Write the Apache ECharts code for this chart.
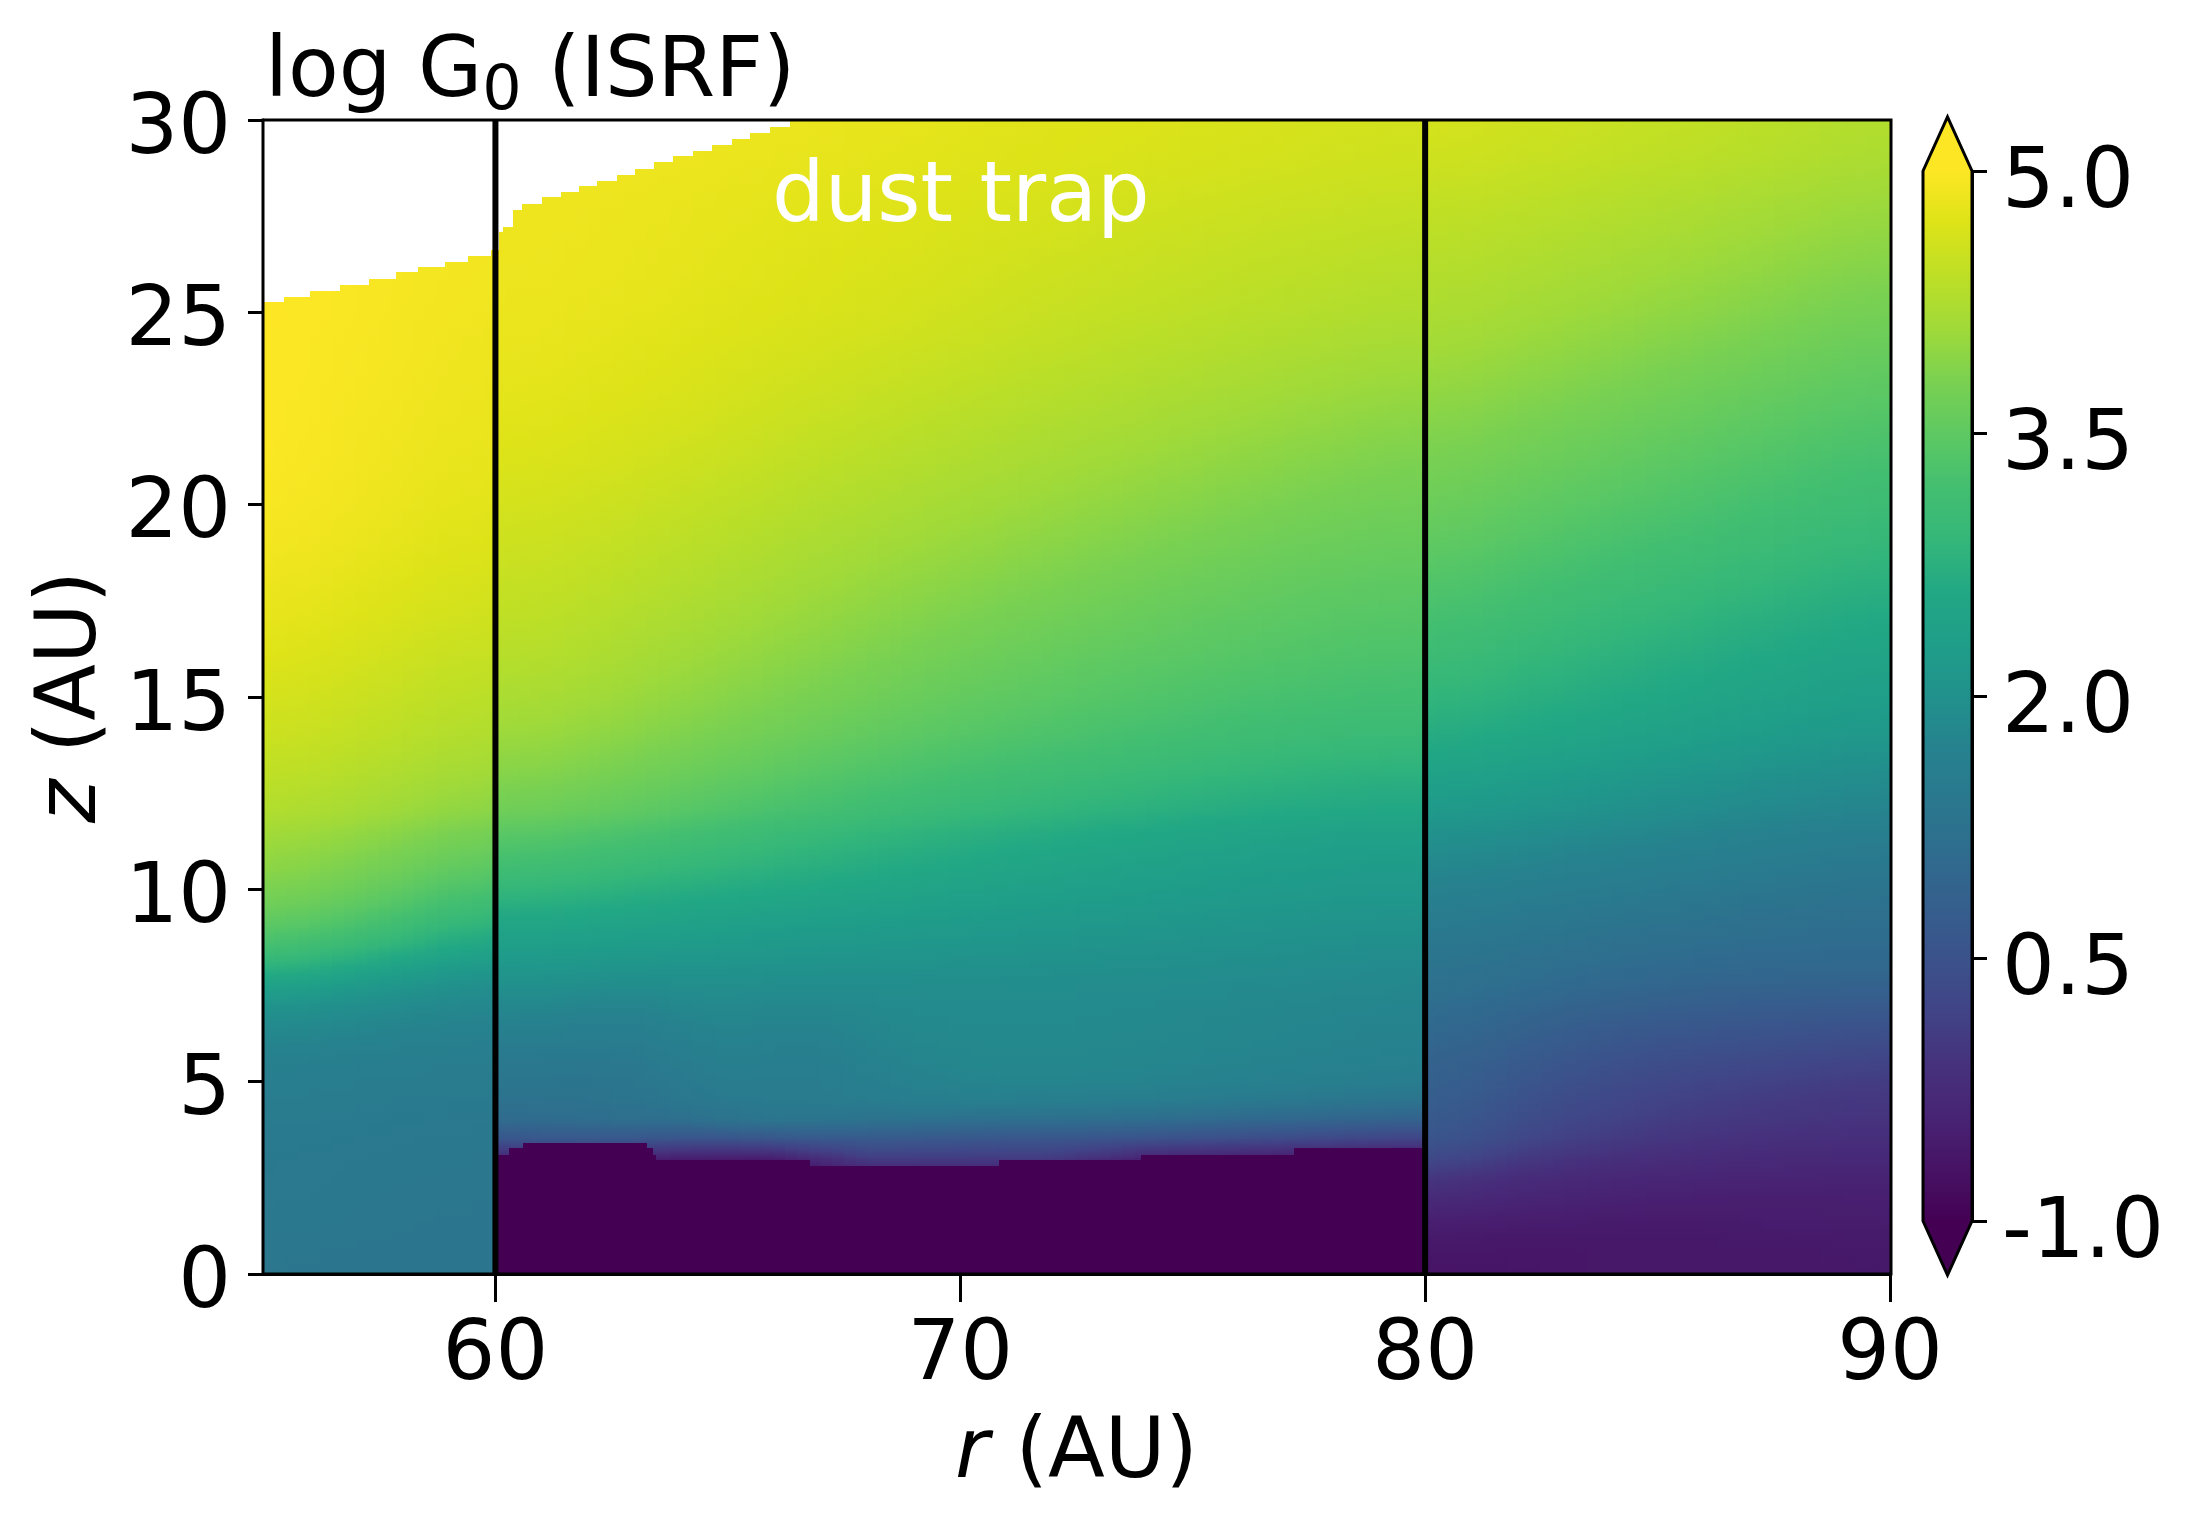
<!DOCTYPE html>
<html><head><meta charset="utf-8">
<style>html,body{margin:0;padding:0;background:#fff}#c{width:2193px;height:1526px}</style>
<script src="https://cdn.jsdelivr.net/npm/echarts@6/dist/echarts.min.js"></script>
</head><body><div id="c"></div>
<script>
const radiusEdges=[55,56,57,58,59,60,61,62,63,64,65,66,67,68,69,70,71,72,73,74,75,76,77,78,79,80,81,82,83,84,85,86,87,88,89,90];
const heightEdges=[30,29,28,27,26,25,24,23,22,21,20,19,18,17,16,15,14,13,12,11.5,11,10.5,10,9.5,9,8.5,8,7.5,7,6.5,6,5.5,5,4.5,4,3.5,3,2.5,2,1.5,1,0.5,0];
const logG0=[
[5,4.98,4.96,4.93,4.9,4.9,4.9,4.9,4.88,4.87,4.85,4.83,4.82,4.8,4.78,4.75,4.73,4.72,4.7,4.68,4.66,4.65,4.62,4.6,4.6,4.62,4.58,4.55,4.52,4.48,4.45,4.42,4.38,4.33,4.28],
[5,4.98,4.96,4.93,4.9,4.88,4.87,4.86,4.84,4.82,4.8,4.78,4.76,4.74,4.72,4.7,4.68,4.66,4.64,4.62,4.6,4.58,4.56,4.54,4.52,4.5,4.47,4.44,4.4,4.36,4.33,4.29,4.25,4.2,4.15],
[5,4.98,4.96,4.93,4.9,4.87,4.86,4.84,4.82,4.8,4.78,4.76,4.74,4.72,4.69,4.66,4.64,4.62,4.59,4.56,4.54,4.51,4.49,4.47,4.45,4.43,4.39,4.35,4.31,4.27,4.23,4.18,4.13,4.08,4.03],
[5,4.98,4.96,4.93,4.9,4.86,4.85,4.83,4.81,4.78,4.75,4.73,4.7,4.68,4.65,4.62,4.59,4.56,4.53,4.5,4.47,4.44,4.42,4.39,4.36,4.34,4.3,4.26,4.22,4.17,4.12,4.07,4.02,3.97,3.92],
[5,4.98,4.95,4.92,4.89,4.85,4.83,4.81,4.79,4.76,4.73,4.7,4.67,4.64,4.61,4.58,4.54,4.51,4.48,4.45,4.42,4.39,4.36,4.33,4.3,4.27,4.22,4.17,4.12,4.07,4.02,3.97,3.91,3.85,3.8],
[5,4.97,4.94,4.91,4.87,4.83,4.81,4.78,4.75,4.72,4.69,4.66,4.63,4.6,4.56,4.52,4.48,4.44,4.41,4.37,4.34,4.3,4.27,4.23,4.2,4.18,4.12,4.07,4.02,3.96,3.91,3.85,3.79,3.73,3.67],
[4.99,4.96,4.93,4.89,4.85,4.8,4.77,4.74,4.71,4.67,4.63,4.59,4.56,4.52,4.48,4.44,4.4,4.36,4.32,4.28,4.24,4.2,4.16,4.12,4.09,4.06,4,3.95,3.89,3.83,3.77,3.71,3.65,3.59,3.54],
[4.99,4.95,4.91,4.87,4.83,4.76,4.73,4.7,4.66,4.62,4.58,4.53,4.49,4.44,4.4,4.35,4.31,4.27,4.23,4.18,4.14,4.09,4.05,4.01,3.97,3.94,3.88,3.82,3.76,3.7,3.64,3.58,3.52,3.46,3.4],
[4.98,4.94,4.89,4.85,4.81,4.71,4.68,4.64,4.6,4.56,4.51,4.46,4.41,4.36,4.31,4.27,4.22,4.17,4.13,4.08,4.03,3.98,3.94,3.89,3.85,3.82,3.75,3.69,3.63,3.57,3.51,3.44,3.38,3.32,3.26],
[4.97,4.92,4.87,4.82,4.78,4.65,4.62,4.58,4.53,4.48,4.43,4.37,4.32,4.27,4.22,4.17,4.12,4.07,4.02,3.97,3.92,3.87,3.82,3.78,3.74,3.7,3.63,3.57,3.51,3.44,3.38,3.31,3.25,3.18,3.12],
[4.93,4.88,4.83,4.78,4.73,4.58,4.55,4.5,4.45,4.4,4.34,4.28,4.23,4.17,4.12,4.07,4.01,3.96,3.91,3.86,3.81,3.76,3.71,3.67,3.65,3.58,3.5,3.43,3.36,3.3,3.23,3.17,3.1,3.04,2.98],
[4.88,4.83,4.78,4.72,4.67,4.52,4.48,4.43,4.37,4.32,4.25,4.19,4.13,4.07,4.01,3.95,3.9,3.85,3.79,3.74,3.69,3.64,3.6,3.57,3.55,3.44,3.36,3.29,3.21,3.14,3.08,3.02,2.95,2.89,2.83],
[4.82,4.77,4.71,4.65,4.6,4.45,4.41,4.35,4.29,4.22,4.16,4.09,4.03,3.96,3.9,3.84,3.78,3.73,3.67,3.62,3.57,3.53,3.49,3.46,3.44,3.28,3.2,3.12,3.05,2.98,2.92,2.85,2.79,2.73,2.67],
[4.76,4.7,4.64,4.58,4.52,4.37,4.33,4.26,4.19,4.12,4.05,3.98,3.91,3.84,3.78,3.72,3.66,3.61,3.56,3.51,3.47,3.43,3.39,3.36,3.34,3.12,3.04,2.96,2.88,2.82,2.76,2.69,2.63,2.58,2.52],
[4.66,4.6,4.54,4.48,4.42,4.28,4.23,4.16,4.09,4.01,3.94,3.87,3.8,3.73,3.66,3.6,3.54,3.49,3.44,3.4,3.36,3.32,3.29,3.26,3.24,2.95,2.87,2.8,2.73,2.67,2.61,2.55,2.49,2.44,2.39],
[4.58,4.52,4.46,4.39,4.32,4.14,4.09,4.02,3.95,3.88,3.8,3.73,3.66,3.59,3.52,3.46,3.41,3.36,3.31,3.26,3.21,3.17,3.13,3.1,3.08,2.76,2.7,2.64,2.58,2.52,2.46,2.4,2.34,2.29,2.25],
[4.48,4.42,4.35,4.28,4.2,4,3.95,3.87,3.8,3.72,3.65,3.57,3.49,3.42,3.35,3.29,3.23,3.18,3.13,3.08,3.03,2.99,2.95,2.92,2.9,2.56,2.5,2.44,2.38,2.32,2.26,2.2,2.15,2.1,2.05],
[4.35,4.28,4.2,4.12,4.02,3.8,3.74,3.66,3.58,3.49,3.41,3.33,3.25,3.17,3.1,3.04,2.98,2.93,2.87,2.82,2.77,2.73,2.69,2.66,2.64,2.28,2.22,2.16,2.1,2.04,1.98,1.93,1.88,1.84,1.8],
[4.18,4.1,4.02,3.93,3.82,3.55,3.49,3.41,3.33,3.24,3.15,3.07,3,2.93,2.86,2.8,2.75,2.7,2.65,2.6,2.56,2.52,2.49,2.46,2.44,2.08,2.03,1.98,1.93,1.88,1.83,1.78,1.73,1.69,1.65],
[4.08,4,3.91,3.81,3.69,3.38,3.32,3.24,3.16,3.08,3,2.93,2.86,2.8,2.74,2.68,2.63,2.58,2.54,2.5,2.46,2.42,2.39,2.36,2.34,1.96,1.91,1.86,1.81,1.76,1.71,1.67,1.62,1.58,1.54],
[3.98,3.89,3.79,3.68,3.55,3.2,3.14,3.07,3,2.93,2.86,2.79,2.73,2.67,2.62,2.57,2.52,2.48,2.44,2.4,2.36,2.33,2.3,2.27,2.26,1.84,1.79,1.74,1.69,1.65,1.6,1.56,1.51,1.47,1.44],
[3.87,3.77,3.66,3.52,3.35,3,2.95,2.89,2.82,2.76,2.7,2.65,2.6,2.55,2.5,2.46,2.42,2.38,2.35,2.31,2.28,2.25,2.23,2.21,2.2,1.72,1.67,1.62,1.57,1.53,1.49,1.45,1.41,1.37,1.34],
[3.74,3.63,3.5,3.34,3.14,2.78,2.74,2.68,2.63,2.58,2.54,2.5,2.46,2.42,2.39,2.35,2.32,2.29,2.26,2.23,2.2,2.18,2.16,2.14,2.13,1.61,1.56,1.51,1.47,1.43,1.39,1.35,1.31,1.28,1.26],
[3.56,3.43,3.28,3.1,2.9,2.58,2.54,2.5,2.46,2.42,2.38,2.35,2.32,2.29,2.27,2.24,2.22,2.2,2.17,2.15,2.12,2.1,2.08,2.06,2.05,1.5,1.45,1.4,1.36,1.32,1.28,1.24,1.21,1.19,1.18],
[3.32,3.18,3.02,2.84,2.64,2.4,2.37,2.33,2.3,2.27,2.24,2.22,2.2,2.18,2.16,2.14,2.12,2.1,2.08,2.06,2.04,2.03,2.01,1.99,1.97,1.41,1.36,1.31,1.26,1.22,1.19,1.16,1.14,1.12,1.11],
[3,2.85,2.68,2.5,2.32,2.22,2.2,2.17,2.15,2.13,2.11,2.1,2.08,2.07,2.06,2.05,2.03,2.02,2,1.98,1.97,1.95,1.93,1.91,1.89,1.31,1.26,1.21,1.16,1.12,1.09,1.07,1.06,1.05,1.05],
[2.6,2.45,2.3,2.17,2.06,2.08,2.06,2.02,2,2,1.99,1.98,1.98,1.97,1.96,1.96,1.95,1.94,1.93,1.92,1.9,1.89,1.87,1.85,1.83,1.26,1.2,1.14,1.09,1.04,1,0.98,0.96,0.95,0.95],
[2.2,2.1,2,1.92,1.86,1.9,1.88,1.78,1.85,1.9,1.88,1.85,1.87,1.88,1.89,1.9,1.89,1.88,1.87,1.86,1.85,1.83,1.81,1.8,1.78,1.18,1.1,1.03,0.97,0.92,0.87,0.85,0.83,0.82,0.8],
[1.96,1.9,1.84,1.8,1.76,1.75,1.72,1.65,1.72,1.82,1.8,1.76,1.8,1.84,1.86,1.87,1.87,1.86,1.85,1.83,1.82,1.8,1.78,1.76,1.74,1.1,1,0.9,0.82,0.77,0.72,0.69,0.66,0.63,0.6],
[1.8,1.76,1.72,1.69,1.66,1.62,1.6,1.55,1.6,1.72,1.72,1.66,1.72,1.8,1.83,1.85,1.85,1.84,1.83,1.81,1.8,1.78,1.75,1.73,1.72,1,0.9,0.8,0.7,0.62,0.58,0.55,0.52,0.49,0.46],
[1.68,1.65,1.62,1.6,1.58,1.45,1.45,1.42,1.5,1.62,1.66,1.58,1.65,1.76,1.8,1.82,1.83,1.82,1.8,1.79,1.77,1.75,1.73,1.7,1.68,0.92,0.8,0.68,0.58,0.5,0.45,0.41,0.37,0.32,0.28],
[1.6,1.57,1.55,1.53,1.52,1.38,1.38,1.36,1.42,1.55,1.6,1.52,1.6,1.7,1.76,1.78,1.8,1.78,1.77,1.75,1.73,1.7,1.68,1.65,1.62,0.85,0.72,0.58,0.47,0.38,0.32,0.27,0.22,0.17,0.12],
[1.55,1.52,1.5,1.48,1.47,1.3,1.3,1.28,1.36,1.46,1.52,1.48,1.52,1.6,1.68,1.72,1.73,1.72,1.7,1.68,1.64,1.6,1.56,1.52,1.48,0.8,0.65,0.48,0.37,0.28,0.2,0.15,0.1,0.05,0.02],
[1.5,1.48,1.46,1.45,1.44,1.18,1.22,1.25,1.32,1.38,1.42,1.5,1.5,1.5,1.5,1.48,1.46,1.42,1.4,1.38,1.32,1.28,1.22,1.18,1.12,0.72,0.55,0.38,0.27,0.18,0.1,0.05,0,-0.04,-0.06],
[1.47,1.46,1.44,1.42,1.41,0.95,0.98,1.05,0.98,1,1.2,1.15,1,0.95,0.9,0.85,0.85,0.85,0.82,0.8,0.75,0.7,0.65,0.6,0.55,0.62,0.42,0.28,0.16,0.08,0,-0.04,-0.08,-0.1,-0.12],
[1.45,1.43,1.42,1.4,1.39,0.2,0.2,0.2,0.1,-0.05,-0.05,0,0.35,0.35,0.35,0.3,0.3,0.25,0.2,0.1,0.05,0,-0.1,-0.15,-0.2,0.52,0.3,0.1,0,-0.08,-0.14,-0.2,-0.22,-0.25,-0.26],
[1.44,1.42,1.4,1.39,1.38,-1,-1,-1,-1,-1,-1,-1,-0.2,-0.2,-0.2,-0.2,-0.2,-0.2,-1,-1,-1,-1,-1,-1,-1,0.1,-0.1,-0.18,-0.24,-0.28,-0.3,-0.33,-0.35,-0.36,-0.36],
[1.43,1.41,1.39,1.38,1.37,-1,-1,-1,-1,-1,-1,-1,-1,-1,-1,-1,-1,-1,-1,-1,-1,-1,-1,-1,-1,-0.15,-0.28,-0.33,-0.38,-0.42,-0.44,-0.45,-0.46,-0.46,-0.46],
[1.42,1.4,1.38,1.37,1.36,-1,-1,-1,-1,-1,-1,-1,-1,-1,-1,-1,-1,-1,-1,-1,-1,-1,-1,-1,-1,-0.38,-0.42,-0.46,-0.48,-0.5,-0.52,-0.52,-0.52,-0.52,-0.5],
[1.4,1.38,1.37,1.36,1.35,-1,-1,-1,-1,-1,-1,-1,-1,-1,-1,-1,-1,-1,-1,-1,-1,-1,-1,-1,-1,-0.52,-0.55,-0.56,-0.56,-0.58,-0.58,-0.56,-0.56,-0.55,-0.54],
[1.38,1.37,1.36,1.35,1.34,-1,-1,-1,-1,-1,-1,-1,-1,-1,-1,-1,-1,-1,-1,-1,-1,-1,-1,-1,-1,-0.62,-0.64,-0.64,-0.64,-0.62,-0.62,-0.6,-0.6,-0.6,-0.58],
[1.36,1.35,1.34,1.33,1.33,-1,-1,-1,-1,-1,-1,-1,-1,-1,-1,-1,-1,-1,-1,-1,-1,-1,-1,-1,-1,-0.68,-0.66,-0.66,-0.64,-0.62,-0.64,-0.62,-0.6,-0.62,-0.6]
];
const surfaceR=[55,55.45,56,56.64,57.28,57.84,58.33,58.9,59.39,59.89,60.06,60.16,60.36,60.57,61,61.4,61.79,62.18,62.6,63,63.39,63.8,64.23,64.64,65.07,65.47,65.9,66.33];
const surfaceZ=[25.29,25.42,25.58,25.73,25.89,26.05,26.18,26.33,26.49,26.64,27.09,27.24,27.68,27.84,28,28.15,28.31,28.44,28.59,28.75,28.91,29.07,29.2,29.36,29.52,29.67,29.83];
const trapR=[60,60.3,60.6,63.25,63.37,63.45,66.75,70.85,73.9,77.2,80];
const trapZ=[3.09,3.25,3.4,3.25,3.09,2.96,2.8,2.96,3.09,3.25];
const boundaries=[60,80];
const xTicks=[60,70,80,90];
const viridis=['#440154','#471365','#482475','#46327e','#414487','#3b528b','#355f8d','#2f6c8e','#2a788e','#26828e','#21918c','#1f9e89','#22a884','#35b779','#44bf70','#5ec962','#7ad151','#a0da39','#bddf26','#dde318','#fde725'];
const FONT='"DejaVu Sans"';
const FS=83;
const VMIN=-1,VMAX=5;
const shade=v=>echarts.color.lerp(Math.max(0,Math.min(1,(v-VMIN)/(VMAX-VMIN))),viridis);

// Each table cell is shaded toward its neighbours when painted, never across the walls at r = 60 and r = 80.
function cornerValue(i,j){
  let s=0,n=0;
  for(const ri of [i-1,i]) for(const cj of [j-1,j]){
    if(ri<0||ri>=logG0.length||cj<0||cj>=logG0[0].length) continue;
    s+=logG0[ri][cj];n++;
  }
  return s/n;
}
function cornerWalled(i,j,cellJ){
  const edge=radiusEdges[j];
  if(boundaries.includes(edge)){
    let s=0,n=0;
    for(const ri of [i-1,i]){
      if(ri<0||ri>=logG0.length) continue;
      s+=logG0[ri][cellJ];n++;
    }
    return s/n;
  }
  return cornerValue(i,j);
}
const cells=[];
logG0.forEach((row,i)=>row.forEach((v,j)=>{
  cells.push([radiusEdges[j],radiusEdges[j+1],heightEdges[i+1],heightEdges[i],v,
    cornerWalled(i,j,j),cornerWalled(i,j+1,j),cornerWalled(i+1,j,j),cornerWalled(i+1,j+1,j)]);
}));
const trapCells=trapZ.map((z,i)=>[trapR[i],trapR[i+1],0,z,-1]);
const gapCells=surfaceZ.map((z,i)=>[surfaceR[i],surfaceR[i+1],z,30]);

function box(api){
  const a=api.coord([api.value(0),api.value(2)]),b=api.coord([api.value(1),api.value(3)]);
  const x=Math.floor(Math.min(a[0],b[0])),y=Math.floor(Math.min(a[1],b[1]));
  return {x,y,width:Math.ceil(Math.max(a[0],b[0]))-x,height:Math.ceil(Math.max(a[1],b[1]))-y};
}
const SLICES=4;
function paintCell(p,api){
  const b=box(api);
  const tl=api.value(5),tr=api.value(6),bl=api.value(7),br=api.value(8);
  const children=[];
  for(let k=0;k<SLICES;k++){
    const f=(k+0.5)/SLICES;
    const top=tl+(tr-tl)*f,bot=bl+(br-bl)*f;
    const x0=Math.floor(b.x+b.width*k/SLICES),x1=Math.ceil(b.x+b.width*(k+1)/SLICES);
    children.push({type:'rect',shape:{x:x0,y:b.y,width:x1-x0,height:b.height},style:{
      fill:new echarts.graphic.LinearGradient(0,0,0,1,[
        {offset:0,color:shade(top)},{offset:0.5,color:shade((top+bot)/2)},{offset:1,color:shade(bot)}])}});
  }
  return {type:'group',children};
}
const base={type:'custom',animation:false,silent:true,progressive:0,clip:false,xAxisIndex:0,yAxisIndex:0};

const option={
  animation:false,backgroundColor:'#fff',
  textStyle:{fontFamily:FONT},
  title:{text:'{a|log G}{b|0}{a| (ISRF)}',left:260,top:19,textStyle:{fontWeight:'normal',rich:{
    a:{fontFamily:FONT,fontWeight:'normal',fontSize:FS,color:'#000',lineHeight:100},
    b:{fontFamily:FONT,fontWeight:'normal',fontSize:62,color:'#000',lineHeight:100,verticalAlign:'bottom'}}}},
  grid:[{left:263,top:120,width:1627,height:1154,outerBoundsMode:'none'},{left:1923,top:171,width:49,height:1050,outerBoundsMode:'none'}],
  xAxis:[{type:'value',gridIndex:0,min:55,max:90,splitLine:{show:false},
      axisLine:{show:true,lineStyle:{color:'#000',width:3}},
      axisTick:{show:true,length:28,customValues:xTicks,lineStyle:{color:'#000',width:3}},
      axisLabel:{customValues:xTicks,margin:42,fontFamily:FONT,fontSize:FS,color:'#000'},
      name:'{i|r} (AU)',nameLocation:'middle',nameGap:140,
      nameTextStyle:{fontFamily:FONT,fontSize:FS,color:'#000',rich:{i:{fontFamily:FONT,fontStyle:'italic',fontSize:FS,color:'#000'}}}},
    {type:'value',gridIndex:1,min:0,max:1,show:false}],
  yAxis:[{type:'value',gridIndex:0,min:0,max:30,interval:5,splitLine:{show:false},
      axisLine:{show:true,lineStyle:{color:'#000',width:3}},
      axisTick:{show:true,length:15,lineStyle:{color:'#000',width:3}},
      axisLabel:{margin:32,verticalAlign:'top',lineHeight:22,fontFamily:FONT,fontSize:FS,color:'#000'},
      name:'{i|z} (AU)',nameLocation:'middle',nameGap:148,nameRotate:90,
      nameTextStyle:{fontFamily:FONT,fontSize:FS,color:'#000',rich:{i:{fontFamily:FONT,fontStyle:'italic',fontSize:FS,color:'#000'}}}},
    {type:'value',gridIndex:1,position:'right',min:-1,max:5,interval:1.5,splitLine:{show:false},
      axisLine:{show:true,onZero:false,lineStyle:{color:'#000',width:3}},
      axisTick:{show:true,length:15,lineStyle:{color:'#000',width:3}},
      axisLabel:{margin:30,verticalAlign:'top',lineHeight:28,fontFamily:FONT,fontSize:FS,color:'#000',formatter:v=>v.toFixed(1)}}],
  series:[
    {...base,data:cells,encode:{x:[0,1],y:[2,3]},renderItem:paintCell},
    {...base,data:trapCells,encode:{x:[0,1],y:[2,3]},renderItem:(p,api)=>({type:'rect',shape:box(api),style:{fill:shade(api.value(4))}})},
    {...base,data:gapCells,encode:{x:[0,1],y:[2,3]},renderItem:(p,api)=>({type:'rect',shape:box(api),style:{fill:'#fff'}})},
    {...base,data:boundaries.map(r=>[r]),encode:{x:0},renderItem:(p,api)=>{
      const a=api.coord([api.value(0),0]),b=api.coord([api.value(0),30]);
      return {type:'line',shape:{x1:a[0],y1:a[1],x2:b[0],y2:b[1]},style:{stroke:'#000',lineWidth:6}};}},
    {...base,data:[[65.95,26.86,'dust trap']],encode:{x:0,y:1},renderItem:(p,api)=>{
      const a=api.coord([api.value(0),api.value(1)]);
      return {type:'text',x:a[0],y:a[1],style:{text:'dust trap',fill:'#fff',font:FS+'px '+FONT,align:'left',verticalAlign:'bottom'}};}},
    {...base,data:[[55,90,0,30]],encode:{x:[0,1],y:[2,3]},renderItem:(p,api)=>({type:'rect',shape:box(api),style:{fill:'none',stroke:'#000',lineWidth:3}})},
    {...base,xAxisIndex:1,yAxisIndex:1,data:[[0,1,-1,5]],encode:{x:[0,1],y:[2,3]},renderItem:(p,api)=>{
      const lo=api.coord([0,-1]),hi=api.coord([1,5]);
      const cx=(lo[0]+hi[0])/2;
      const stops=viridis.map((c,i)=>({offset:i/(viridis.length-1),color:c}));
      return {type:'group',children:[
        {type:'rect',shape:{x:lo[0],y:hi[1],width:hi[0]-lo[0],height:lo[1]-hi[1]},
         style:{fill:new echarts.graphic.LinearGradient(0,1,0,0,stops)}},
        {type:'polygon',shape:{points:[[lo[0],hi[1]],[cx,hi[1]-54],[hi[0],hi[1]]]},style:{fill:viridis[viridis.length-1]}},
        {type:'polygon',shape:{points:[[lo[0],lo[1]],[cx,lo[1]+54],[hi[0],lo[1]]]},style:{fill:viridis[0]}},
        {type:'polygon',shape:{points:[[lo[0],hi[1]],[cx,hi[1]-54],[hi[0],hi[1]],[hi[0],lo[1]],[cx,lo[1]+54],[lo[0],lo[1]]]},
         style:{fill:'none',stroke:'#000',lineWidth:3}}
      ]};}}
  ]
};
const chart=echarts.init(document.getElementById('c'),null,{renderer:'canvas'});
chart.setOption(option);
</script></body></html>
